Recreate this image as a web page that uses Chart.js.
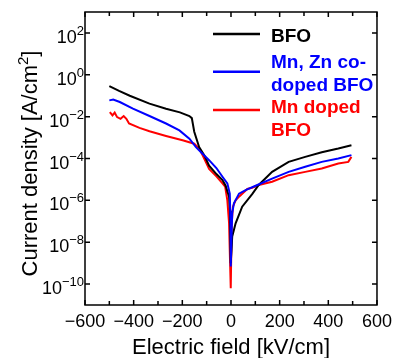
<!DOCTYPE html>
<html>
<head>
<meta charset="utf-8">
<script src="https://cdn.jsdelivr.net/npm/chart.js@4.4.0/dist/chart.umd.min.js"></script>
<style>
  html, body { margin: 0; padding: 0; background: #fff; }
  #wrap { width: 398px; height: 358px; }
</style>
</head>
<body>
<div id="wrap"><canvas id="jv_chart"></canvas></div>
<script>
// J-E curves (field in kV/cm, current density in A/cm2)
const bfoField = [-500, -460, -416, -335, -267, -210, -171, -161, -151, -131, -110, -90, -60, -35, -22, -8, -4, -1,
  2, 5, 19, 46, 87, 114, 169, 237, 305, 373, 441, 495];
const bfoJ = [2.9e-1, 1.7e-1, 1.0e-1, 4.2e-2, 2.4e-2, 1.6e-2, 1.07e-2, 8.5e-3, 1.9e-3, 3.5e-4, 1.45e-4, 4.5e-5, 1.8e-5, 9.3e-6, 5e-6, 1.5e-6, 3.2e-7, 1e-9,
  4e-9, 1.9e-8, 8e-8, 5e-7, 2e-6, 5.4e-6, 2.3e-5, 6.9e-5, 1.2e-4, 2.0e-4, 3.0e-4, 4.3e-4];

const coDopedField = [-500, -484, -457, -403, -335, -267, -212, -171, -144, -117, -90, -60, -35, -15, -5, -2, -1,
  2, 5, 12, 33, 60, 101, 169, 237, 305, 373, 441, 495];
const coDopedJ = [6e-2, 6.6e-2, 5e-2, 2.4e-2, 1.07e-2, 4.7e-3, 2.2e-3, 8.9e-4, 3.5e-4, 1.7e-4, 8.3e-5, 3.5e-5, 1.35e-5, 6.5e-6, 2.1e-6, 1e-7, 7e-10,
  1.6e-8, 2.4e-7, 7.2e-7, 2.1e-6, 3.1e-6, 5e-6, 1.1e-5, 2.3e-5, 4e-5, 6.9e-5, 1e-4, 1.45e-4];

const mnDopedField = [-498, -487, -478, -468, -454, -441, -430, -419, -376, -335, -267, -199, -151, -131, -117, -90, -60, -35, -24, -15, -8, -1,
  3, 8, 19, 33, 67, 87, 114, 169, 237, 305, 373, 441, 482, 495];
const mnDopedJ = [1.66e-2, 1.15e-2, 1.55e-2, 9.5e-3, 7.9e-3, 1.07e-2, 7.9e-3, 4.7e-3, 2.9e-3, 2e-3, 1.2e-3, 7.4e-4, 5.1e-4, 3e-4, 1.45e-4, 3.2e-5, 1.4e-5, 6.5e-6, 4.5e-6, 1e-6, 8.3e-8, 6.3e-11,
  8e-8, 5e-7, 1e-6, 1.5e-6, 3.5e-6, 4e-6, 5.4e-6, 7.8e-6, 1.6e-5, 2.3e-5, 3.3e-5, 5.8e-5, 6.9e-5, 1.2e-4];

const seriesNames = ['BFO', 'Mn, Zn co-doped BFO', 'Mn doped BFO'];
const legendLines = [['BFO'], ['Mn, Zn co-', 'doped BFO'], ['Mn doped', 'BFO']];
const seriesColors = ['#000000', '#0000ff', '#ff0000'];

const xTickStep = 200;
const xMinorStep = 100;
const yTickExponents = [-10, -8, -6, -4, -2, 0, 2];

Chart.defaults.font.family = 'Arial, "Liberation Sans", sans-serif';
Chart.defaults.color = '#000';

function toPoints(xs, ys) {
  return xs.map((x, i) => ({ x: x, y: ys[i] }));
}

// frame, inward ticks, y labels with superscripts, y title and the legend
const framePlugin = {
  id: 'framePlugin',
  afterDraw(chart, args, opts) {
    const ctx = chart.ctx;
    const area = chart.chartArea;
    const xs = chart.scales.x;
    const ys = chart.scales.y;
    ctx.save();
    ctx.strokeStyle = '#000';
    ctx.lineWidth = 1.5;
    ctx.strokeRect(area.left, area.top, area.right - area.left, area.bottom - area.top);

    // x ticks (bottom + top)
    ctx.beginPath();
    for (let v = xs.min; v <= xs.max; v += xMinorStep) {
      const px = xs.getPixelForValue(v);
      const len = (v % xTickStep === 0) ? 5 : 4;
      ctx.moveTo(px, area.bottom);
      ctx.lineTo(px, area.bottom - len);
      ctx.moveTo(px, area.top);
      ctx.lineTo(px, area.top + len);
    }
    // y ticks (left + right)
    ys.ticks.forEach(t => {
      const py = ys.getPixelForValue(t.value);
      ctx.moveTo(area.left, py);
      ctx.lineTo(area.left + 5, py);
      ctx.moveTo(area.right, py);
      ctx.lineTo(area.right - 5, py);
    });
    ctx.stroke();

    // y tick labels 10^n
    ctx.fillStyle = '#000';
    ctx.textBaseline = 'alphabetic';
    ctx.textAlign = 'right';
    yTickExponents.forEach(e => {
      const py = ys.getPixelForValue(Math.pow(10, e));
      const expText = String(e).replace('-', '\u2212');
      ctx.font = '13px Arial, "Liberation Sans", sans-serif';
      const ew = ctx.measureText(expText).width;
      ctx.fillText(expText, area.left - 1, py + 2);
      ctx.font = '18px Arial, "Liberation Sans", sans-serif';
      ctx.fillText('10', area.left - 1 - ew, py + 10);
    });

    // y title with superscript
    const mainFont = '22px Arial, "Liberation Sans", sans-serif';
    const supFont = '15px Arial, "Liberation Sans", sans-serif';
    const t1 = 'Current density [A/cm';
    const t2 = '2';
    const t3 = ']';
    ctx.font = mainFont;
    const w1 = ctx.measureText(t1).width;
    const w3 = ctx.measureText(t3).width;
    ctx.font = supFont;
    const w2 = ctx.measureText(t2).width;
    const total = w1 + w2 + w3;
    const cy = (area.top + area.bottom) / 2 + 5;
    ctx.save();
    ctx.translate(37, cy);
    ctx.rotate(-Math.PI / 2);
    ctx.textAlign = 'left';
    let cx = -total / 2;
    ctx.font = mainFont;
    ctx.fillText(t1, cx, 0);
    cx += w1;
    ctx.font = supFont;
    ctx.fillText(t2, cx, -9);
    cx += w2;
    ctx.font = mainFont;
    ctx.fillText(t3, cx, 0);
    ctx.restore();

    // legend
    ctx.textAlign = 'left';
    ctx.font = 'bold 19px Arial, "Liberation Sans", sans-serif';
    chart.data.datasets.forEach((ds, i) => {
      ctx.strokeStyle = ds.borderColor;
      ctx.lineWidth = 2.5;
      ctx.beginPath();
      ctx.moveTo(opts.lineX, opts.lineY[i]);
      ctx.lineTo(opts.lineX + opts.lineLen, opts.lineY[i]);
      ctx.stroke();
      ctx.fillStyle = ds.borderColor;
      legendLines[i].forEach((txt, j) => {
        ctx.fillText(txt, opts.textX, opts.rowBase[i][j]);
      });
    });
    ctx.restore();
  }
};

const datasets = [
  { data: toPoints(bfoField, bfoJ), order: 1 },
  { data: toPoints(coDopedField, coDopedJ), order: 0 },
  { data: toPoints(mnDopedField, mnDopedJ), order: 2 }
].map((d, i) => Object.assign(d, {
  label: seriesNames[i],
  borderColor: seriesColors[i],
  backgroundColor: seriesColors[i],
  borderWidth: 2,
  pointRadius: 0,
  tension: 0,
  fill: false
}));

const ctx = document.getElementById('jv_chart').getContext('2d');
const jvChart = new Chart(ctx, {
  type: 'line',
  data: { datasets: datasets },
  plugins: [framePlugin],
  options: {
    responsive: true,
    maintainAspectRatio: false,
    animation: false,
    layout: { padding: { top: 12, right: 19, left: 0, bottom: 0 } },
    plugins: {
      legend: { display: false },
      tooltip: { enabled: false },
      framePlugin: {
        lineX: 213,
        lineLen: 47,
        textX: 271,
        lineY: [34, 71.7, 110],
        rowBase: [[41.7], [68, 90.5], [113, 135.5]]
      }
    },
    scales: {
      x: {
        type: 'linear',
        min: -600,
        max: 600,
        ticks: {
          stepSize: xTickStep,
          font: { size: 18 },
          color: '#000',
          padding: 6,
          maxRotation: 0,
          callback: v => String(v).replace('-', '\u2212')
        },
        grid: { display: false, drawTicks: false },
        border: { display: false },
        title: {
          display: true,
          text: 'Electric field [kV/cm]',
          color: '#000',
          font: { size: 22 },
          padding: { top: 0, bottom: -3 }
        },
        afterFit: s => { s.height = 53; }
      },
      y: {
        type: 'logarithmic',
        min: 1e-11,
        max: 1e3,
        afterBuildTicks: s => {
          s.ticks = yTickExponents.map(e => ({ value: Math.pow(10, e) }));
        },
        ticks: { display: false },
        grid: { display: false, drawTicks: false },
        border: { display: false },
        afterFit: s => { s.width = 85; }
      }
    }
  }
});
</script>
</body>
</html>
